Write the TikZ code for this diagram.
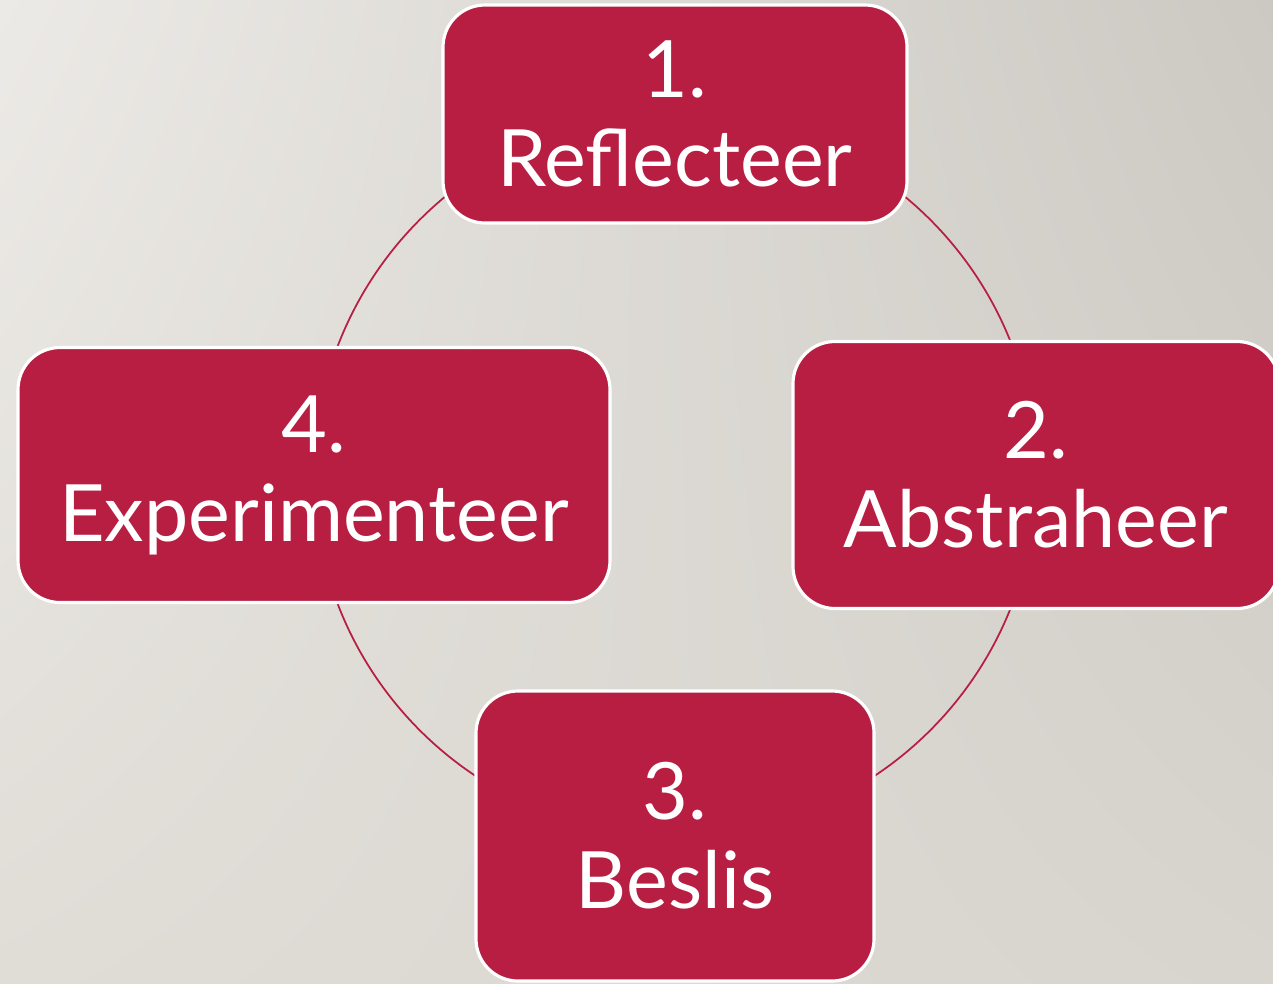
\documentclass[tikz,border=0pt]{standalone}
\usepackage{fontspec}
\setmainfont{Lato}
\usetikzlibrary{calc}
\usetikzlibrary{shadings}
\definecolor{stepred}{RGB}{183,30,66}
\definecolor{bgtl}{RGB}{236,234,230}
\definecolor{bgtr}{RGB}{204,201,195}
\definecolor{bgbl}{RGB}{224,221,215}
\definecolor{bgbr}{RGB}{216,213,207}

\begin{document}
\begin{tikzpicture}[
  stepbox/.style={rectangle, rounded corners=0.42cm, fill=stepred, draw=white, line width=0.9pt,
    text=white, align=center, inner sep=0pt, font=\fontsize{22.5}{25.3}\selectfont},
  ring/.style={draw=stepred, line width=0.5pt}]
\clip (0,0) rectangle (12.73,9.83);
\shade[upper left=bgtl, upper right=bgtr, lower left=bgbl, lower right=bgbr] (0,0) rectangle (12.73,9.83);
\coordinate (c) at (6.75,5.08);
\draw[ring] (c) circle (3.61);
\node[stepbox, minimum width=4.64cm, minimum height=2.18cm] (refl) at ($(c)+(90:3.61)$) {1.\\Reflecteer};
\node[stepbox, minimum width=4.86cm, minimum height=2.67cm] (abstr) at ($(c)+(0:3.61)$) {2.\\Abstraheer};
\node[stepbox, minimum width=3.98cm, minimum height=2.90cm] (besl) at ($(c)+(270:3.61)$) {3.\\Beslis};
\node[stepbox, minimum width=5.92cm, minimum height=2.55cm] (expe) at ($(c)+(180:3.61)$) {4.\\Experimenteer};
\end{tikzpicture}
\end{document}
